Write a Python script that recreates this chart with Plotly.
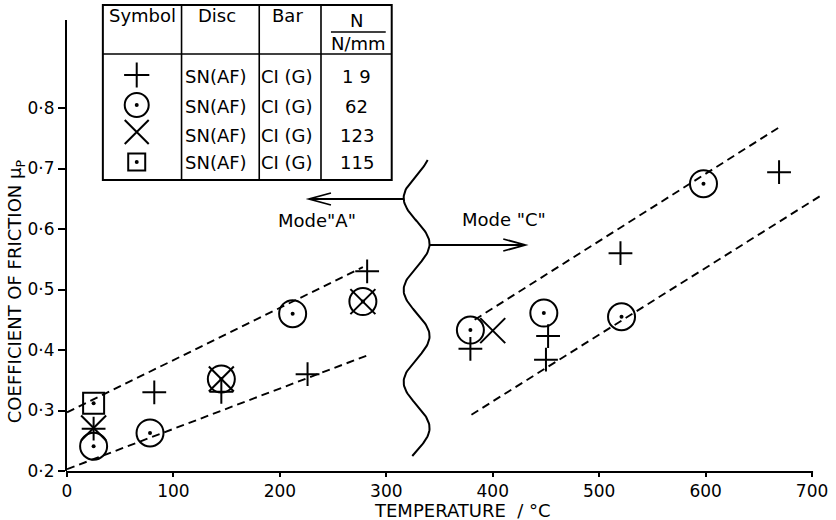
import numpy as np
import plotly.graph_objects as go

# ---------------- data ----------------
# N = 19 N/mm  (plus)
plus_T = [25, 82, 145, 226, 282, 379, 452, 450, 520, 669]
plus_mu = [0.270, 0.330, 0.331, 0.360, 0.530, 0.402, 0.423, 0.384, 0.560, 0.694]
# N = 62 N/mm  (circle with dot)
circ_T = [25, 78, 145, 212, 278, 379, 448, 521, 598]
circ_mu = [0.241, 0.263, 0.352, 0.460, 0.480, 0.433, 0.461, 0.455, 0.675]
# N = 123 N/mm (cross)
x_T = [25, 145, 278, 400]
x_mu = [0.271, 0.352, 0.480, 0.432]
# N = 115 N/mm (square with dot)
sq_T = [25]
sq_mu = [0.312]

# dashed trend bands
modeA_up_T, modeA_up_mu = [0, 278], [0.297, 0.537]
modeA_lo_T, modeA_lo_mu = [0, 285], [0.203, 0.393]
modeC_up_T, modeC_up_mu = [383, 669], [0.450, 0.768]
modeC_lo_T, modeC_lo_mu = [380, 709], [0.293, 0.656]

x_ticks = [0, 100, 200, 300, 400, 500, 600, 700]
y_ticks = [0.2, 0.3, 0.4, 0.5, 0.6, 0.7, 0.8]
y_tick_text = ["0·2", "0·3", "0·4", "0·5", "0·6", "0·7", "0·8"]

tbl_header = ["Symbol", "Disc", "Bar", "N"]
tbl_disc = ["SN(AF)", "SN(AF)", "SN(AF)", "SN(AF)"]
tbl_bar = ["CI (G)", "CI (G)", "CI (G)", "CI (G)"]
tbl_N = ["1 9", "62", "123", "115"]

# ---------------- geometry helpers ----------------
W, H = 836, 520
ML, MR, MT, MB = 67, 8, 20, 49
KX = (815 - ML) / 700.0          # px per degC
KY = 605.0                        # px per unit mu
XMAX = (W - ML - MR) / KX
YMIN = 0.2
YMAX = YMIN + (H - MT - MB) / KY
PW, PH = W - ML - MR, H - MT - MB


def dx(px):
    return (px - ML) / KX


def dy(py):
    return YMIN + (H - MB - py) / KY


def ppx(px):
    return (px - ML) / PW


def ppy(py):
    return (H - MB - py) / PH


FONT = "DejaVu Sans, Liberation Sans, sans-serif"
BLACK = "black"

fig = go.Figure()

dash = "8px,5px"
for T, mu in [(modeA_up_T, modeA_up_mu), (modeA_lo_T, modeA_lo_mu),
              (modeC_up_T, modeC_up_mu), (modeC_lo_T, modeC_lo_mu)]:
    fig.add_trace(go.Scatter(x=T, y=mu, mode="lines",
                             line=dict(color=BLACK, width=1.9, dash=dash),
                             hoverinfo="skip"))

# wavy separator between the two modes (decoration)
wy = np.linspace(160, 456, 200)
wx = 418 - 13 * np.cos(2 * np.pi * (wy - 198) / 92.0)
fig.add_trace(go.Scatter(x=[dx(v) for v in wx], y=[dy(v) for v in wy],
                         mode="lines", line=dict(color=BLACK, width=2),
                         hoverinfo="skip"))

mk_line = dict(color=BLACK, width=2)
fig.add_trace(go.Scatter(x=plus_T, y=plus_mu, mode="markers",
                         marker=dict(symbol="cross-thin", size=17, line=mk_line, color=BLACK)))
fig.add_trace(go.Scatter(x=circ_T, y=circ_mu, mode="markers",
                         marker=dict(symbol="circle-open", size=27, line=mk_line, color=BLACK)))
fig.add_trace(go.Scatter(x=x_T, y=x_mu, mode="markers",
                         marker=dict(symbol="x-thin", size=25, line=mk_line, color=BLACK)))
fig.add_trace(go.Scatter(x=sq_T, y=sq_mu, mode="markers",
                         marker=dict(symbol="square-open", size=21, line=mk_line, color=BLACK)))
# centre dots of the circle and square symbols
fig.add_trace(go.Scatter(x=circ_T + sq_T, y=circ_mu + sq_mu, mode="markers",
                         marker=dict(symbol="circle", size=4, color=BLACK, line=dict(width=0))))

# ---------------- legend table ----------------
shapes = []
tl, tr, tt, tb = 103, 393, 5, 180
shapes.append(dict(type="rect", xref="paper", yref="paper",
                   x0=ppx(tl), x1=ppx(tr), y0=ppy(tb), y1=ppy(tt),
                   line=dict(color=BLACK, width=2), fillcolor="white", layer="below"))
for cx in [182, 260, 322]:
    shapes.append(dict(type="line", xref="paper", yref="paper",
                       x0=ppx(cx), x1=ppx(cx), y0=ppy(tb), y1=ppy(tt),
                       line=dict(color=BLACK, width=1.6)))
shapes.append(dict(type="line", xref="paper", yref="paper",
                   x0=ppx(tl), x1=ppx(tr), y0=ppy(54), y1=ppy(54),
                   line=dict(color=BLACK, width=1.6)))
shapes.append(dict(type="line", xref="paper", yref="paper",
                   x0=ppx(332), x1=ppx(387), y0=ppy(32), y1=ppy(32),
                   line=dict(color=BLACK, width=1.5)))
# x axis line (ends at 700)
shapes.append(dict(type="line", xref="paper", yref="paper",
                   x0=ppx(66), x1=ppx(816), y0=ppy(H - MB + 1), y1=ppy(H - MB + 1),
                   line=dict(color=BLACK, width=2)))


# mode arrows (shaft + V head)
def arrow(x0, y0, x1, y1):
    d = 1 if x1 > x0 else -1
    p = "M{},{} L{},{} M{},{} L{},{} L{},{}".format(
        ppx(x0), ppy(y0), ppx(x1), ppy(y1),
        ppx(x1 - d * 22), ppy(y1 - 6), ppx(x1), ppy(y1), ppx(x1 - d * 22), ppy(y1 + 6))
    shapes.append(dict(type="path", xref="paper", yref="paper", path=p,
                       line=dict(color=BLACK, width=1.8)))


arrow(405, 199, 310, 199)
arrow(431, 245, 527, 245)

ann = []


def txt(px, py, s, size=18, **kw):
    ann.append(dict(xref="paper", yref="paper", x=ppx(px), y=ppy(py), text=s,
                    showarrow=False, xanchor="center", yanchor="middle",
                    font=dict(family=FONT, size=size, color=BLACK), **kw))


hx = [143, 218, 288, 358]
for i, h in enumerate(tbl_header[:3]):
    txt(hx[i], 15, h)
txt(358, 21, tbl_header[3])
txt(360, 43, "N/mm")
row_y = [77, 107, 135, 163]
for i in range(4):
    txt(217, row_y[i], tbl_disc[i])
    txt(288, row_y[i], tbl_bar[i])
    txt(358, row_y[i], tbl_N[i])

leg_sym = ["cross-thin", "circle-open", "x-thin", "square-open"]
leg_size = [18, 24, 24, 17]
leg_y = [75, 105, 132, 162]
for s, sz, yy in zip(leg_sym, leg_size, leg_y):
    fig.add_trace(go.Scatter(x=[dx(137)], y=[dy(yy)], mode="markers", cliponaxis=False,
                             marker=dict(symbol=s, size=sz, line=mk_line, color=BLACK),
                             hoverinfo="skip"))
fig.add_trace(go.Scatter(x=[dx(137), dx(137)], y=[dy(105), dy(162)], mode="markers",
                         cliponaxis=False, hoverinfo="skip",
                         marker=dict(symbol="circle", size=4, color=BLACK, line=dict(width=0))))

# mode labels
txt(318, 220, 'Mode"A"', size=18)
txt(506, 219, 'Mode "C"', size=18)

# axis titles
txt(464, 510, "TEMPERATURE  / °C", size=18)
txt(16, 291, "COEFFICIENT OF FRICTION μ<sub>P</sub>", size=18, textangle=-90)

fig.update_layout(
    width=W, height=H,
    margin=dict(l=ML, r=MR, t=MT, b=MB, pad=0),
    paper_bgcolor="white", plot_bgcolor="white",
    showlegend=False, hovermode=False,
    shapes=shapes, annotations=ann,
    font=dict(family=FONT, color=BLACK),
    xaxis=dict(range=[0, XMAX], tickvals=x_ticks, ticks="outside", ticklen=5,
               tickwidth=2, tickcolor=BLACK, showline=False, showgrid=False,
               zeroline=False, tickfont=dict(family=FONT, size=17, color=BLACK)),
    yaxis=dict(range=[YMIN, YMAX], tickvals=y_ticks, ticktext=y_tick_text,
               ticks="outside", ticklen=7, tickwidth=2, tickcolor=BLACK,
               showline=True, linewidth=2, linecolor=BLACK, showgrid=False,
               zeroline=False, tickfont=dict(family=FONT, size=17, color=BLACK)),
)

fig.write_html("out.html", config={"displayModeBar": False},
               post_script="document.body.style.margin='0px';")
